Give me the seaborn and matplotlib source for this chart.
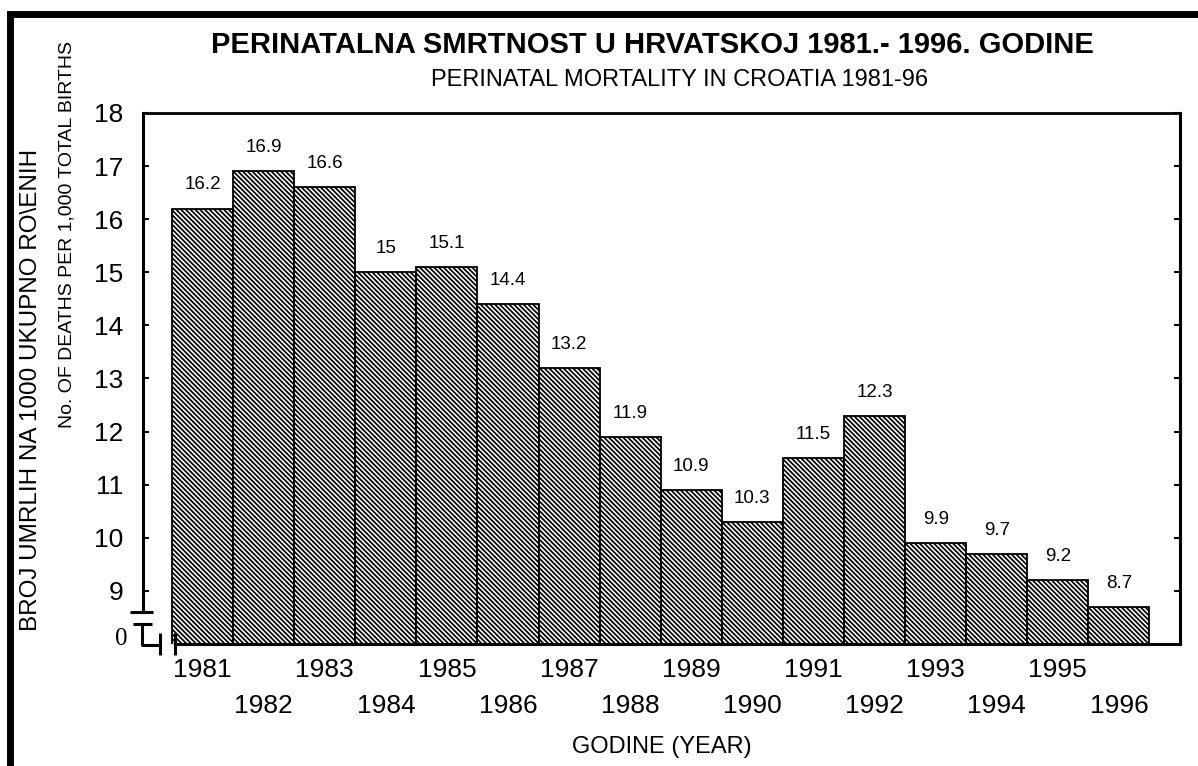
import matplotlib
matplotlib.use("Agg")
import matplotlib.pyplot as plt
import seaborn as sns
import pandas as pd
from matplotlib.patches import Rectangle
from matplotlib.lines import Line2D

# ---- data ----
YEARS = [1981, 1982, 1983, 1984, 1985, 1986, 1987, 1988,
         1989, 1990, 1991, 1992, 1993, 1994, 1995, 1996]
RATES = [16.2, 16.9, 16.6, 15.0, 15.1, 14.4, 13.2, 11.9,
         10.9, 10.3, 11.5, 12.3, 9.9, 9.7, 9.2, 8.7]
RATE_LABELS = ["16.2", "16.9", "16.6", "15", "15.1", "14.4", "13.2", "11.9",
               "10.9", "10.3", "11.5", "12.3", "9.9", "9.7", "9.2", "8.7"]
Y_TICKS = [9, 10, 11, 12, 13, 14, 15, 16, 17, 18]

TITLE = "PERINATALNA SMRTNOST U HRVATSKOJ 1981.- 1996. GODINE"
SUBTITLE = "PERINATAL MORTALITY IN CROATIA 1981-96"
YLABEL1 = "BROJ UMRLIH NA 1000 UKUPNO RO\\ENIH"
YLABEL2 = "No. OF DEATHS PER 1,000 TOTAL BIRTHS"
XLABEL = "GODINE (YEAR)"

sns.set_theme(style="white")
plt.rcParams['font.family'] = ['Liberation Sans', 'DejaVu Sans']
for k in ['text.color', 'axes.labelcolor', 'xtick.color', 'ytick.color',
          'axes.edgecolor']:
    plt.rcParams[k] = 'black'
plt.rcParams['hatch.linewidth'] = 1.25
plt.rcParams['hatch.color'] = 'black'

W, H = 1198, 766
fig = plt.figure(figsize=(W / 100, H / 100), dpi=100)
fig.patch.set_facecolor('white')

L, R, T, B = 143, 1180, 113, 644
ax = fig.add_axes([L / W, 1 - B / H, (R - L) / W, (B - T) / H])

df = pd.DataFrame({"year": [str(y) for y in YEARS], "rate": RATES})
sns.barplot(data=df, x="year", y="rate", ax=ax, width=1.0, color="white",
            saturation=1, edgecolor="black", linewidth=1.3,
            hatch="\\" * 7)
for p in ax.patches:
    p.set_facecolor("white")
    p.set_edgecolor("black")

XMIN, XMAX = -0.975, 16.0
YMIN, YMAX = 8, 18
ax.set_xlim(XMIN, XMAX)
ax.set_ylim(YMIN, YMAX)

# bar value labels
for p, lab in zip(ax.patches, RATE_LABELS):
    ax.annotate(lab, (p.get_x() + p.get_width() / 2, p.get_height()),
                xytext=(0, 17), textcoords="offset points",
                ha="center", va="center", fontsize=13.5)

# y ticks
ax.set_yticks(Y_TICKS)
ax.set_yticklabels([str(v) for v in Y_TICKS], fontsize=19)
ax.tick_params(axis='y', direction='in', length=4, width=1.5, left=True,
               right=True, labelleft=True, labelright=False, pad=14,
               color='black')

# x tick labels, staggered
xl = []
for i, y in enumerate(YEARS):
    xl.append(str(y) if i % 2 == 0 else "\n" + str(y))
ax.set_xticks(range(len(YEARS)))
ax.set_xticklabels(xl, fontsize=19, linespacing=1.62)
ax.tick_params(axis='x', length=0, pad=10)

ax.set_xlabel(XLABEL, fontsize=17, labelpad=13)
ax.set_ylabel("")

# spines
for s in ax.spines.values():
    s.set_color('black')
    s.set_linewidth(2.2)
ax.spines['top'].set_linewidth(2.0)


def px_x(px):
    return XMIN + (px - L) / (R - L) * (XMAX - XMIN)


def px_y(py):
    return YMAX - (py - T) / (B - T) * (YMAX - YMIN)


ax.spines['left'].set_bounds(px_y(612), YMAX)
ax.spines['bottom'].set_bounds(px_x(175), XMAX)

# axis break decorations
segs = [
    ((130, 612), (153, 612)),
    ((133, 624), (152, 624)),
    ((142, 623), (142, 645)),
    ((141, 645), (161, 645)),
    ((160, 633), (160, 655)),
    ((175, 633), (175, 655)),
]
for (x0, y0), (x1, y1) in segs:
    ax.add_line(Line2D([px_x(x0), px_x(x1)], [px_y(y0), px_y(y1)],
                       color='black', lw=2.2, clip_on=False,
                       solid_capstyle='butt'))

ax.text(px_x(121), px_y(639), "0", fontsize=18, ha='center', va='center',
        family=['Liberation Serif', 'DejaVu Serif'])

# titles
fig.text(652 / W, 1 - 45 / H, TITLE, fontsize=21, fontweight='bold',
         ha='center', va='center')
fig.text(680 / W, 1 - 80 / H, SUBTITLE, fontsize=17, ha='center', va='center')

fig.text(31 / W, 1 - 390 / H, YLABEL1, fontsize=17.5, rotation=90,
         ha='center', va='center')
fig.text(67 / W, 1 - 235 / H, YLABEL2, fontsize=14, rotation=90,
         ha='center', va='center')

# outer frame
fig.patches.append(Rectangle((10 / W, -0.2), 1.2, 1 - 14 / H + 0.2,
                             transform=fig.transFigure, fill=False,
                             edgecolor='black', linewidth=5))

fig.savefig("out.png", dpi=100, facecolor='white')
